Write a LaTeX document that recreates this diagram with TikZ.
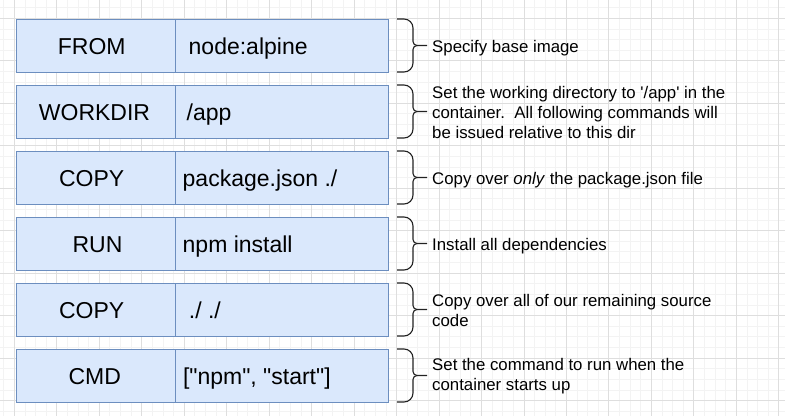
\documentclass[tikz,border=0pt]{standalone}
\usepackage{fontspec}
\setmainfont{Liberation Sans}
\definecolor{boxfill}{HTML}{DAE8FC}
\definecolor{boxline}{HTML}{6C8EBF}
\definecolor{gridminor}{HTML}{F3F3F3}
\definecolor{gridmajor}{HTML}{DEDEDE}
\definecolor{bracecol}{HTML}{222222}
\newcommand\rowbrace[1]{%
  \pgfmathsetmacro\bT{#1}%
  \pgfmathsetmacro\bB{#1+53}%
  \pgfmathsetmacro\bM{#1+26.5}%
  \draw[bracebar] (397,\bT) -- (404,\bT) .. controls (409,\bT) and (413,\bT+4) .. (413,\bT+9)
     -- (413,\bM-4) .. controls (413,\bM-1.8) and (414.8,\bM) .. (417,\bM) -- (427,\bM);
  \draw[bracebar] (397,\bB) -- (404,\bB) .. controls (409,\bB) and (413,\bB-4) .. (413,\bB-9)
     -- (413,\bM+4) .. controls (413,\bM+1.8) and (414.8,\bM) .. (417,\bM);
}
\begin{document}
\begin{tikzpicture}[x=1pt,y=-1pt,
  cell/.style={draw=boxline,fill=boxfill,line width=1pt,minimum height=53pt,inner sep=0pt,outer sep=0pt,anchor=north west},
  keycell/.style={cell,minimum width=159pt},
  valcell/.style={cell,minimum width=213pt},
  keytext/.style={font=\fontsize{23}{27}\selectfont,anchor=base,inner sep=0pt},
  valtext/.style={font=\fontsize{23}{27}\selectfont,anchor=base west,inner sep=0pt},
  note/.style={font=\fontsize{16.8}{20}\selectfont,align=left,anchor=west,inner sep=0pt},
  bracebar/.style={draw=bracecol,line width=1.1pt}]
\useasboundingbox (0,0) rectangle (785,416);
\fill[white] (0,0) rectangle (785,416);
% grid
\foreach \i in {0,...,73} \draw[gridminor,line width=0.8pt] ({3.68+10.6175*\i},0) -- ({3.68+10.6175*\i},416);
\foreach \j in {0,...,38} \draw[gridminor,line width=0.8pt] (0,{7.68+10.6175*\j}) -- (785,{7.68+10.6175*\j});
\foreach \i in {0,...,18} \draw[gridmajor,line width=0.8pt] ({14.3+42.47*\i},0) -- ({14.3+42.47*\i},416);
\foreach \j in {0,...,9} \draw[gridmajor,line width=0.8pt] (0,{18.3+42.47*\j}) -- (785,{18.3+42.47*\j});
% rows
\node[keycell] (k1) at (16,19) {};
\node[valcell] (v1) at (175,19) {};
\node[keycell] (k2) at (16,85) {};
\node[valcell] (v2) at (175,85) {};
\node[keycell] (k3) at (16,151) {};
\node[valcell] (v3) at (175,151) {};
\node[keycell] (k4) at (16,217) {};
\node[valcell] (v4) at (175,217) {};
\node[keycell] (k5) at (16,283) {};
\node[valcell] (v5) at (175,283) {};
\node[keycell] (k6) at (16,349) {};
\node[valcell] (v6) at (175,349) {};
% key texts
\node[keytext] (kt1) at (91.7,54) {FROM};
\node[keytext] (kt2) at (94.5,120) {WORKDIR};
\node[keytext] (kt3) at (91.7,186) {COPY};
\node[keytext] (kt4) at (97.5,252) {RUN};
\node[keytext] (kt5) at (91.7,318) {COPY};
\node[keytext] (kt6) at (94.7,384) {CMD};
% value texts
\node[valtext] (vt1) at (188.5,54) {node:alpine};
\node[valtext] (vt2) at (186.5,120) {/app};
\node[valtext] (vt3) at (182.5,186) {package.json ./};
\node[valtext] (vt4) at (182.5,252) {npm install};
\node[valtext] (vt5) at (188.7,318) {./ ./};
\node[valtext] (vt6) at (182.8,384) {[\textquotedbl npm\textquotedbl, \textquotedbl start\textquotedbl]};
% braces
\rowbrace{19}
\rowbrace{85}
\rowbrace{151}
\rowbrace{217}
\rowbrace{283}
\rowbrace{349}
% notes
\node[note] (n1) at (432,48) {Specify base image};
\node[note] (n2) at (432,112.5) {Set the working directory to \textquotesingle/app\textquotesingle\ in the\\container.\ \ All following commands will\\be issued relative to this dir};
\node[note] (n3) at (432,180) {Copy over \textit{only} the package.json file};
\node[note] (n4) at (432,246) {Install all dependencies};
\node[note] (n5) at (432,310) {Copy over all of our remaining source\\code};
\node[note] (n6) at (432,376) {Set the command to run when the\\container starts up};
\end{tikzpicture}
\end{document}
